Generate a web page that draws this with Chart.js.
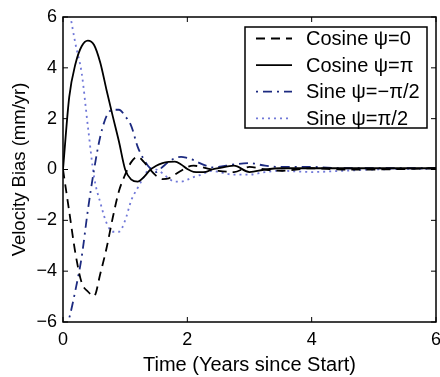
<!DOCTYPE html>
<html>
<head>
<meta charset="utf-8">
<script src="https://cdn.jsdelivr.net/npm/chart.js@4/dist/chart.umd.min.js"></script>
<style>
  body { margin: 0; background: #fff; }
  canvas { display: block; }
</style>
</head>
<body>
<canvas id="biasChart" width="440" height="377"></canvas>
<script>
// time grid (years) shared by all four curves
const timeYears = [0, 0.1, 0.2, 0.3, 0.4, 0.5, 0.6, 0.7, 0.8, 0.9, 1.0, 1.1, 1.2, 1.3, 1.4, 1.5, 1.6, 1.7, 1.8, 1.9,
    2.0, 2.1, 2.2, 2.3, 2.4, 2.5, 2.75, 3.0, 3.25, 3.5, 4.0, 4.5, 5.0, 5.5, 6.0];

const cosineZero = [0, -1.65, -3.3, -4.45, -4.8, -4.98, -4.1, -3.1, -1.9, -0.85, -0.2, 0.3, 0.5, 0.3, 0.0, -0.25, -0.38, -0.35, -0.2, -0.05,
    0.1, 0.15, 0.12, 0.05, 0.0, -0.05, -0.1, 0.1, 0.0, -0.05, 0.05, 0.0, 0.0, 0.02, 0.05];
const cosinePi = [0, 2.85, 4.15, 4.85, 5.07, 4.9, 4.2, 3.13, 2.1, 1.1, 0.0, -0.4, -0.48, -0.3, -0.02, 0.15, 0.25, 0.3, 0.31, 0.2,
    0.02, -0.09, -0.1, -0.09, 0.0, 0.05, 0.15, -0.1, 0.0, 0.05, 0.05, 0.05, 0.05, 0.05, 0.05];
const sineMinusHalfPi = [-6.6, -5.85, -4.75, -3.45, -1.6, 0.0, 1.3, 2.1, 2.35, 2.35, 2.1, 1.7, 0.9, 0.4, 0.05, -0.1, 0.1, 0.3, 0.45, 0.5,
    0.45, 0.37, 0.25, 0.15, 0.08, 0.1, 0.2, 0.25, 0.15, 0.1, 0.1, 0.05, 0.05, 0.05, 0.05];
const sineHalfPi = [7.7, 6.3, 4.95, 3.8, 1.7, -0.3, -1.3, -2.1, -2.45, -2.45, -2.0, -1.2, -0.73, -0.3, 0.05, 0.0, -0.15, -0.35, -0.48, -0.48,
    -0.4, -0.3, -0.22, -0.12, -0.05, -0.1, -0.2, -0.2, -0.1, -0.05, -0.1, -0.05, 0.0, 0.02, 0.03];

const seriesLabels = ['Cosine \u03c8=0', 'Cosine \u03c8=\u03c0', 'Sine \u03c8=\u2212\u03c0/2', 'Sine \u03c8=\u03c0/2'];
const xTicks = [0, 2, 4, 6];
const yTicks = [-6, -4, -2, 0, 2, 4, 6];

const FONT = '"Liberation Sans", Arial, sans-serif';

function toPoints(values) {
    return values.map((v, i) => ({ x: timeYears[i], y: v }));
}

// box around the axes with inward ticks on all sides, like matlab
const framePlugin = {
    id: 'frame',
    afterDraw(chart) {
        const { ctx, chartArea: a, scales } = chart;
        ctx.save();
        ctx.strokeStyle = '#000';
        ctx.lineWidth = 1.5;
        ctx.strokeRect(a.left, a.top, a.right - a.left, a.bottom - a.top);
        ctx.lineWidth = 1;
        ctx.beginPath();
        xTicks.forEach(t => {
            const px = scales.x.getPixelForValue(t);
            ctx.moveTo(px, a.bottom); ctx.lineTo(px, a.bottom - 5);
            ctx.moveTo(px, a.top); ctx.lineTo(px, a.top + 5);
        });
        yTicks.forEach(t => {
            const py = scales.y.getPixelForValue(t);
            ctx.moveTo(a.left, py); ctx.lineTo(a.left + 5, py);
            ctx.moveTo(a.right, py); ctx.lineTo(a.right - 5, py);
        });
        ctx.stroke();
        ctx.restore();
    }
};

// legend box inside the plot, top right
const boxLegendPlugin = {
    id: 'boxLegend',
    afterDraw(chart) {
        const ctx = chart.ctx;
        const left = 245, top = 27, right = 427, bottom = 128;
        ctx.save();
        ctx.fillStyle = '#fff';
        ctx.fillRect(left, top, right - left, bottom - top);
        ctx.font = '20px ' + FONT;
        ctx.textBaseline = 'middle';
        chart.data.datasets.forEach((ds, i) => {
            const y = 38.5 + i * 26.6;
            ctx.save();
            ctx.strokeStyle = ds.borderColor;
            ctx.lineWidth = ds.borderWidth;
            ctx.setLineDash(ds.borderDash || []);
            ctx.beginPath();
            ctx.moveTo(256, y);
            ctx.lineTo(292, y);
            ctx.stroke();
            ctx.restore();
            ctx.fillStyle = '#000';
            ctx.fillText(ds.label, 306, y + 1);
        });
        ctx.strokeStyle = '#000';
        ctx.lineWidth = 1.5;
        ctx.strokeRect(left, top, right - left, bottom - top);
        ctx.restore();
    }
};

new Chart(document.getElementById('biasChart'), {
    type: 'line',
    data: {
        datasets: [
            { label: seriesLabels[0], data: toPoints(cosineZero), borderColor: '#000', borderWidth: 1.8, borderDash: [9, 6] },
            { label: seriesLabels[1], data: toPoints(cosinePi), borderColor: '#000', borderWidth: 1.8 },
            { label: seriesLabels[2], data: toPoints(sineMinusHalfPi), borderColor: '#1c2a80', borderWidth: 1.8, borderDash: [2, 5, 9, 5] },
            { label: seriesLabels[3], data: toPoints(sineHalfPi), borderColor: '#7078d8', borderWidth: 1.8, borderDash: [2, 4] }
        ]
    },
    options: {
        responsive: false,
        animation: false,
        layout: { padding: { left: 0, right: 4, top: 17, bottom: 0 } },
        elements: {
            point: { radius: 0 },
            line: { cubicInterpolationMode: 'monotone', fill: false }
        },
        plugins: {
            legend: { display: false },
            tooltip: { enabled: false }
        },
        scales: {
            x: {
                type: 'linear',
                min: 0, max: 6,
                afterBuildTicks: s => { s.ticks = xTicks.map(v => ({ value: v })); },
                afterFit: s => { s.height = 55; s.paddingLeft = 0; s.paddingRight = 0; },
                grid: { display: false, drawTicks: false, tickLength: 0 },
                border: { display: false },
                ticks: { color: '#000', padding: 7, font: { family: FONT, size: 18 } },
                title: { display: true, text: 'Time (Years since Start)', color: '#000', padding: 0, font: { family: FONT, size: 20 } }
            },
            y: {
                min: -6, max: 6,
                afterBuildTicks: s => { s.ticks = yTicks.map(v => ({ value: v })); },
                afterFit: s => { s.width = 63; s.paddingTop = 0; s.paddingBottom = 0; },
                grid: { display: false, drawTicks: false, tickLength: 0 },
                border: { display: false },
                ticks: {
                    color: '#000', padding: 6, font: { family: FONT, size: 18 },
                    callback: v => (v < 0 ? '\u2212' + Math.abs(v) : String(v))
                },
                title: { display: true, text: 'Velocity Bias (mm/yr)', color: '#000', padding: { top: 9, bottom: 0 }, font: { family: FONT, size: 18.5 } }
            }
        }
    },
    plugins: [framePlugin, boxLegendPlugin]
});
</script>
</body>
</html>
